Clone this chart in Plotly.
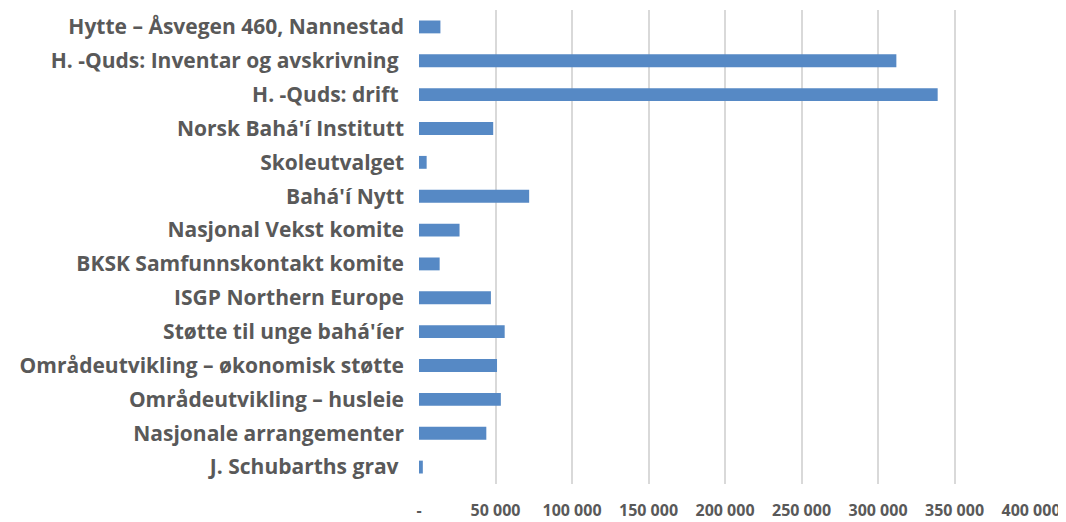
import plotly.graph_objects as go

categories = [
    "Hytte – Åsvegen 460, Nannestad",
    "H. -Quds: Inventar og avskrivning ",
    "H. -Quds: drift ",
    "Norsk Bahá'í Institutt",
    "Skoleutvalget",
    "Bahá'í Nytt",
    "Nasjonal Vekst komite",
    "BKSK Samfunnskontakt komite",
    "ISGP Northern Europe",
    "Støtte til unge bahá'íer",
    "Områdeutvikling – økonomisk støtte",
    "Områdeutvikling – husleie",
    "Nasjonale arrangementer",
    "J. Schubarths grav ",
]
values = [14000, 312000, 339000, 48500, 5000, 72000, 26500, 13500, 47000, 56000, 51000, 53500, 44000, 2500]

tick_vals = [0, 50000, 100000, 150000, 200000, 250000, 300000, 350000, 400000]
tick_text = ["-", "50 000", "100 000", "150 000", "200 000", "250 000", "300 000", "350 000", "400 000"]

fig = go.Figure(
    go.Bar(
        y=categories,
        x=values,
        orientation="h",
        marker=dict(color="#5689C5", line=dict(width=0)),
    )
)

# page body has an 8px default margin, so the figure is sized/offset to fit the window
fig.update_layout(
    width=1058,
    height=514,
    margin=dict(l=411, r=35, t=2, b=38, autoexpand=False),
    paper_bgcolor="white",
    plot_bgcolor="white",
    bargap=0.62,
    showlegend=False,
    font=dict(family="Open Sans", color="#595959"),
)
fig.update_xaxes(
    range=[0, 400000],
    tickvals=tick_vals,
    ticktext=tick_text,
    showgrid=True,
    gridcolor="#D9D9D9",
    gridwidth=2,
    zeroline=False,
    showline=False,
    automargin=False,
    tickfont=dict(family="Open Sans", size=16, color="#595959", weight="bold"),
    ticklabelstandoff=15,
)
fig.update_yaxes(
    autorange="reversed",
    showgrid=False,
    showline=False,
    zeroline=False,
    automargin=False,
    tickfont=dict(family="Open Sans", size=21, color="#595959", weight="bold"),
    ticklabelstandoff=14,
)

fig.write_html("out.html")
